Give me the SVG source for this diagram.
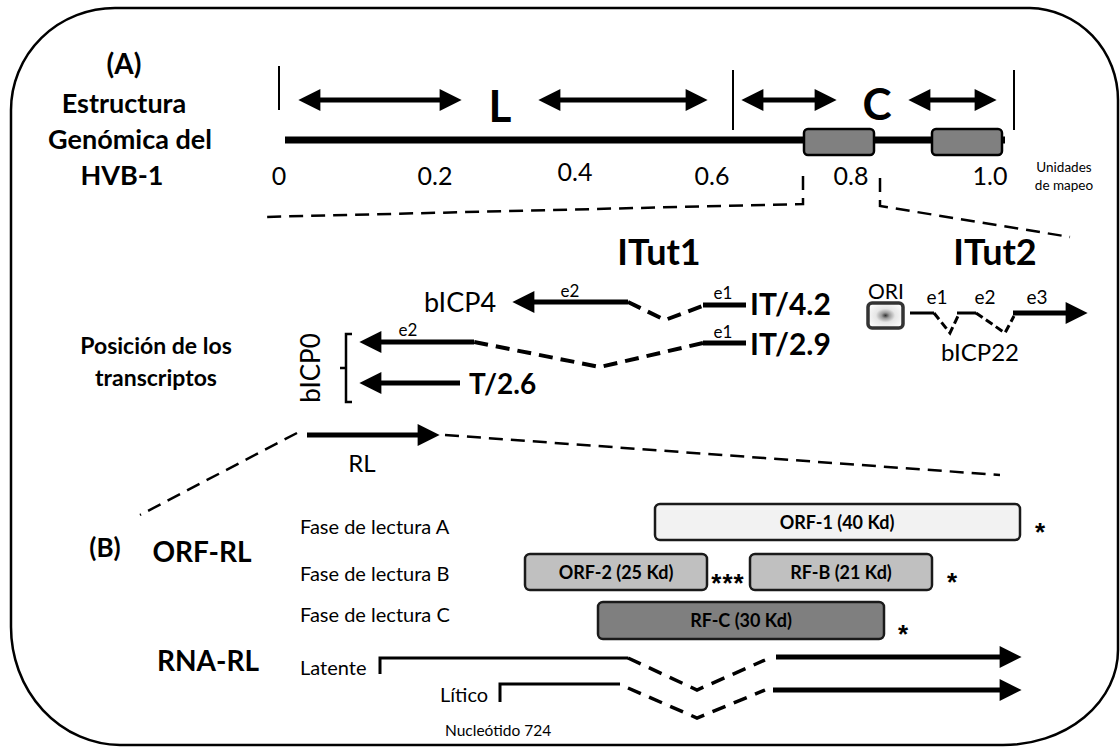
<svg xmlns="http://www.w3.org/2000/svg" width="1120" height="747" viewBox="0 0 1120 747">
<defs>
<style>
text{font-family:Lato,"Open Sans","Liberation Sans",sans-serif;fill:#000}
.b{font-weight:bold}
.ast{font-family:"Liberation Sans",sans-serif;font-weight:bold;font-size:26px;fill:#000}
.ln{stroke:#000;stroke-width:5;fill:none}
.thin{stroke:#000;stroke-width:3;fill:none}
.ds{stroke:#000;stroke-width:4;fill:none;stroke-dasharray:14 8}
.zd{stroke:#000;stroke-width:2.5;fill:none;stroke-dasharray:14 8}
.box{stroke:#1a1a1a;stroke-width:2.5}
</style>
<marker id="ah" viewBox="0 0 10 10" refX="2" refY="5" markerWidth="26" markerHeight="22" markerUnits="userSpaceOnUse" orient="auto-start-reverse">
<path d="M0,0 L10,5 L0,10 Z" fill="#000"/>
</marker>
<radialGradient id="ori" cx="0.5" cy="0.5" r="0.55">
<stop offset="0" stop-color="#333"/>
<stop offset="0.2" stop-color="#999"/>
<stop offset="0.5" stop-color="#e6e6e6"/>
<stop offset="1" stop-color="#fafafa"/>
</radialGradient>
</defs>
<rect width="1120" height="747" fill="#fff"/>
<path id="frame" d="M115,8 L1030,8 A90,92 0 0 1 1118,100 L1118,650 A115,95 0 0 1 1003,745 L120,745 A110,118 0 0 1 11,627 L11,110 A104,102 0 0 1 115,8 Z" fill="none" stroke="#000" stroke-width="2.5"/>

<g id="title-A">
<text class="b" x="124" y="74" font-size="28" text-anchor="middle">(A)</text>
<text class="b" x="124" y="113" font-size="27" text-anchor="middle">Estructura</text>
<text class="b" x="130" y="149" font-size="27" text-anchor="middle">Genómica del</text>
<text class="b" x="122" y="185" font-size="27" text-anchor="middle">HVB-1</text>
</g>

<g id="genome">
<line x1="285" y1="140" x2="1005" y2="140" stroke="#000" stroke-width="7"/>
<rect x="804" y="129" width="70" height="26" rx="4" fill="#808080" stroke="#000" stroke-width="2.5"/>
<rect x="932" y="129" width="70" height="26" rx="4" fill="#808080" stroke="#000" stroke-width="2.5"/>
<line x1="279" y1="66" x2="279" y2="110" stroke="#000" stroke-width="2"/>
<line x1="733" y1="70" x2="733" y2="130" stroke="#000" stroke-width="2"/>
<line x1="1014" y1="70" x2="1014" y2="130" stroke="#000" stroke-width="2"/>
<line x1="316" y1="100" x2="444" y2="100" class="ln" marker-start="url(#ah)" marker-end="url(#ah)"/>
<line x1="556" y1="100" x2="690" y2="100" class="ln" marker-start="url(#ah)" marker-end="url(#ah)"/>
<line x1="759" y1="100" x2="819" y2="100" class="ln" marker-start="url(#ah)" marker-end="url(#ah)"/>
<line x1="926" y1="100" x2="979" y2="100" class="ln" marker-start="url(#ah)" marker-end="url(#ah)"/>
<text class="b" x="500" y="122" font-size="44" text-anchor="middle">L</text>
<text class="b" x="877" y="120" font-size="44" text-anchor="middle">C</text>
<g font-size="25" text-anchor="middle">
<text x="279" y="185">0</text>
<text x="435" y="185">0.2</text>
<text x="575" y="181">0.4</text>
<text x="712" y="185">0.6</text>
<text x="851" y="185">0.8</text>
<text x="990" y="185">1.0</text>
</g>
<text x="1064" y="172" font-size="13.5" text-anchor="middle">Unidades</text>
<text x="1064" y="190" font-size="13.5" text-anchor="middle">de mapeo</text>
</g>

<g id="connectors">
<polyline class="zd" points="803,176 803,204 262,217"/>
<polyline class="zd" points="880,178 880,206 1070,237"/>
<line x1="445" y1="435" x2="1000" y2="475" class="zd"/>
<line x1="297" y1="433" x2="140" y2="515" class="zd" stroke-width="3.5" stroke-dasharray="18 9"/>
</g>

<g id="itut1">
<text class="b" x="659" y="265" font-size="36" text-anchor="middle">ITut1</text>
<text x="460" y="312" font-size="27" text-anchor="middle">bICP4</text>
<line x1="628" y1="302" x2="530" y2="302" class="ln" marker-end="url(#ah)"/>
<polyline class="ds" points="628,302 665,320 705,305"/>
<line x1="703" y1="305" x2="746" y2="305" class="ln"/>
<text x="570" y="297" font-size="17" text-anchor="middle">e2</text>
<text x="723" y="299" font-size="17" text-anchor="middle">e1</text>
<text class="b" x="750" y="315" font-size="30">IT/4.2</text>

<line x1="703" y1="343" x2="746" y2="343" class="ln"/>
<polyline class="ds" points="703,343 600,367 474,342"/>
<line x1="474" y1="342" x2="377" y2="342" class="ln" marker-end="url(#ah)"/>
<text x="408" y="336" font-size="17" text-anchor="middle">e2</text>
<text x="723" y="338" font-size="17" text-anchor="middle">e1</text>
<text class="b" x="750" y="355" font-size="30">IT/2.9</text>

<line x1="460" y1="383" x2="377" y2="383" class="ln" marker-end="url(#ah)"/>
<text class="b" x="469" y="394" font-size="28">T/2.6</text>
<path d="M352,334 L346,334 L346,402 L352,402 M346,368 L340,368" fill="none" stroke="#000" stroke-width="2.5"/>
<text x="0" y="0" font-size="26" text-anchor="middle" transform="translate(320,368) rotate(-90)">bICP0</text>
</g>

<g id="label-pos">
<text class="b" x="156" y="354" font-size="23" text-anchor="middle">Posición de los</text>
<text class="b" x="156" y="386" font-size="23" text-anchor="middle">transcriptos</text>
</g>

<g id="itut2">
<text class="b" x="995" y="265" font-size="36" text-anchor="middle">ITut2</text>
<text x="886" y="299" font-size="21" text-anchor="middle">ORI</text>
<rect x="868" y="303" width="35" height="25" rx="4" fill="url(#ori)" stroke="#333" stroke-width="3.5"/>
<line x1="910" y1="313" x2="934" y2="313" class="thin"/>
<polyline points="934,313 950,333 958,316" fill="none" stroke="#000" stroke-width="3" stroke-dasharray="8 4"/>
<line x1="957" y1="313" x2="976" y2="313" class="thin"/>
<polyline points="976,313 1005,333 1014,316" fill="none" stroke="#000" stroke-width="3" stroke-dasharray="8 4"/>
<line x1="1013" y1="313" x2="1070" y2="313" class="ln" marker-end="url(#ah)"/>
<text x="937" y="304" font-size="19" text-anchor="middle">e1</text>
<text x="985" y="304" font-size="19" text-anchor="middle">e2</text>
<text x="1037" y="304" font-size="19" text-anchor="middle">e3</text>
<text x="980" y="361" font-size="24" text-anchor="middle">bICP22</text>
</g>

<g id="rl">
<line x1="307" y1="435" x2="422" y2="435" class="ln" marker-end="url(#ah)"/>
<text x="362" y="472" font-size="24" text-anchor="middle">RL</text>
</g>

<g id="section-B">
<text class="b" x="105" y="557" font-size="26" text-anchor="middle">(B)</text>
<text class="b" x="202" y="562" font-size="28" text-anchor="middle">ORF-RL</text>
<text x="300" y="534" font-size="20">Fase de lectura A</text>
<text x="300" y="581" font-size="20">Fase de lectura B</text>
<text x="300" y="622" font-size="20">Fase de lectura C</text>
</g>

<g id="orf1">
<rect x="655" y="504" width="365" height="36" rx="5" fill="#f2f2f2" class="box"/>
<text class="b" x="837" y="529" font-size="18" text-anchor="middle">ORF-1 (40 Kd)</text>
<text class="ast" x="1040" y="541" text-anchor="middle">*</text>
</g>
<g id="orf2">
<rect x="525" y="554" width="182" height="36" rx="5" fill="#c0c0c0" class="box"/>
<text class="b" x="616" y="579" font-size="18" text-anchor="middle">ORF-2 (25 Kd)</text>
<text class="ast" x="728" y="592" text-anchor="middle" letter-spacing="1">***</text>
</g>
<g id="rfb">
<rect x="750" y="554" width="182" height="36" rx="5" fill="#c0c0c0" class="box"/>
<text class="b" x="841" y="579" font-size="18" text-anchor="middle">RF-B (21 Kd)</text>
<text class="ast" x="952" y="591" text-anchor="middle">*</text>
</g>
<g id="rfc">
<rect x="598" y="602" width="286" height="37" rx="5" fill="#7f7f7f" class="box"/>
<text class="b" x="741" y="627" font-size="18" text-anchor="middle">RF-C (30 Kd)</text>
<text class="ast" x="903" y="643" text-anchor="middle">*</text>
</g>

<g id="rna-rl">
<text class="b" x="208" y="671" font-size="28" text-anchor="middle">RNA-RL</text>
<text x="300" y="675" font-size="20">Latente</text>
<polyline points="380,674 380,658 628,658" fill="none" stroke="#000" stroke-width="3"/>
<polyline points="628,658 697,690 765,660" fill="none" stroke="#000" stroke-width="3.5" stroke-dasharray="14 9"/>
<line x1="776" y1="657" x2="1004" y2="657" class="ln" marker-end="url(#ah)"/>
<text x="440" y="702" font-size="20">Lítico</text>
<polyline points="500,702 500,684 620,684" fill="none" stroke="#000" stroke-width="3"/>
<polyline points="628,688 697,718 765,690" fill="none" stroke="#000" stroke-width="3.5" stroke-dasharray="14 9"/>
<line x1="773" y1="690" x2="1004" y2="690" class="ln" marker-end="url(#ah)"/>
<text x="445" y="736" font-size="15.5">Nucleótido 724</text>
</g>
</svg>
